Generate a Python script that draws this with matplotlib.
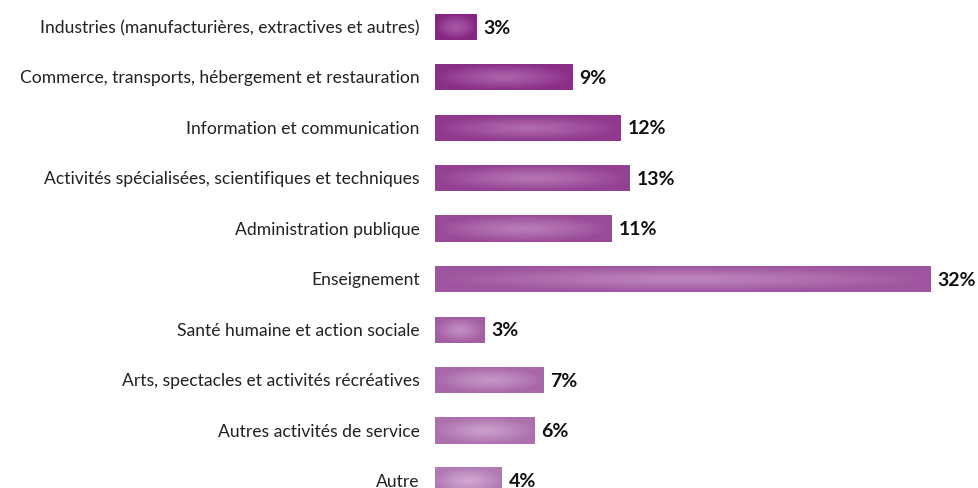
import numpy as np
import matplotlib
matplotlib.use("Agg")
import matplotlib.pyplot as plt
from matplotlib.colors import to_rgb

categories = [
    "Industries (manufacturières, extractives et autres)",
    "Commerce, transports, hébergement et restauration",
    "Information et communication",
    "Activités spécialisées, scientifiques et techniques",
    "Administration publique",
    "Enseignement",
    "Santé humaine et action sociale",
    "Arts, spectacles et activités récréatives",
    "Autres activités de service",
    "Autre",
]
values = [2.7, 8.9, 12.0, 12.6, 11.4, 32.0, 3.2, 7.0, 6.4, 4.3]
value_labels = ["3%", "9%", "12%", "13%", "11%", "32%", "3%", "7%", "6%", "4%"]

top_edge = np.array(to_rgb("#862683"))
bot_edge = np.array(to_rgb("#B27AB4"))
top_center = np.array(to_rgb("#A85BA6"))
bot_center = np.array(to_rgb("#CFA8D0"))

plt.rcParams['font.family'] = ['Lato', 'DejaVu Sans']
fig = plt.figure(figsize=(9.79, 4.89), dpi=100)
ax = fig.add_axes([435/979, 0, 544/979, 1])
sp = 50.44
top_px = 28.0
bottom_ext = 9 + (489 - top_px - 9 * sp) / sp
h = 26/sp
n = len(categories)
for i, (v, lab) in enumerate(zip(values, value_labels)):
    f = i / (n - 1)
    edge = top_edge * (1 - f) + bot_edge * f
    cen = top_center * (1 - f) + bot_center * f
    W, H = 200, 40
    xx = np.linspace(-1, 1, W)[None, :]
    yy = np.linspace(-1, 1, H)[:, None]
    r = np.sqrt(xx**2 + yy**2)
    r = np.clip(r, 0, 1)
    t = r ** 1.2
    img = cen[None, None, :] * (1 - t[..., None]) + edge[None, None, :] * t[..., None]
    ax.imshow(img, extent=(0, v, i + h/2, i - h/2), aspect='auto', interpolation='bilinear', zorder=2)
    ax.text(v + 0.45, i, lab, va='center', ha='left', fontsize=14, fontweight='bold', color='#111111')
    ax.text(-1.0, i, categories[i], va='center', ha='right', fontsize=12.6, color='#222222', clip_on=False)

ax.set_xlim(0, 32 * 544 / 495)
ax.set_ylim(bottom_ext, -top_px/sp)
ax.axis('off')
fig.savefig("out.png", dpi=100)
